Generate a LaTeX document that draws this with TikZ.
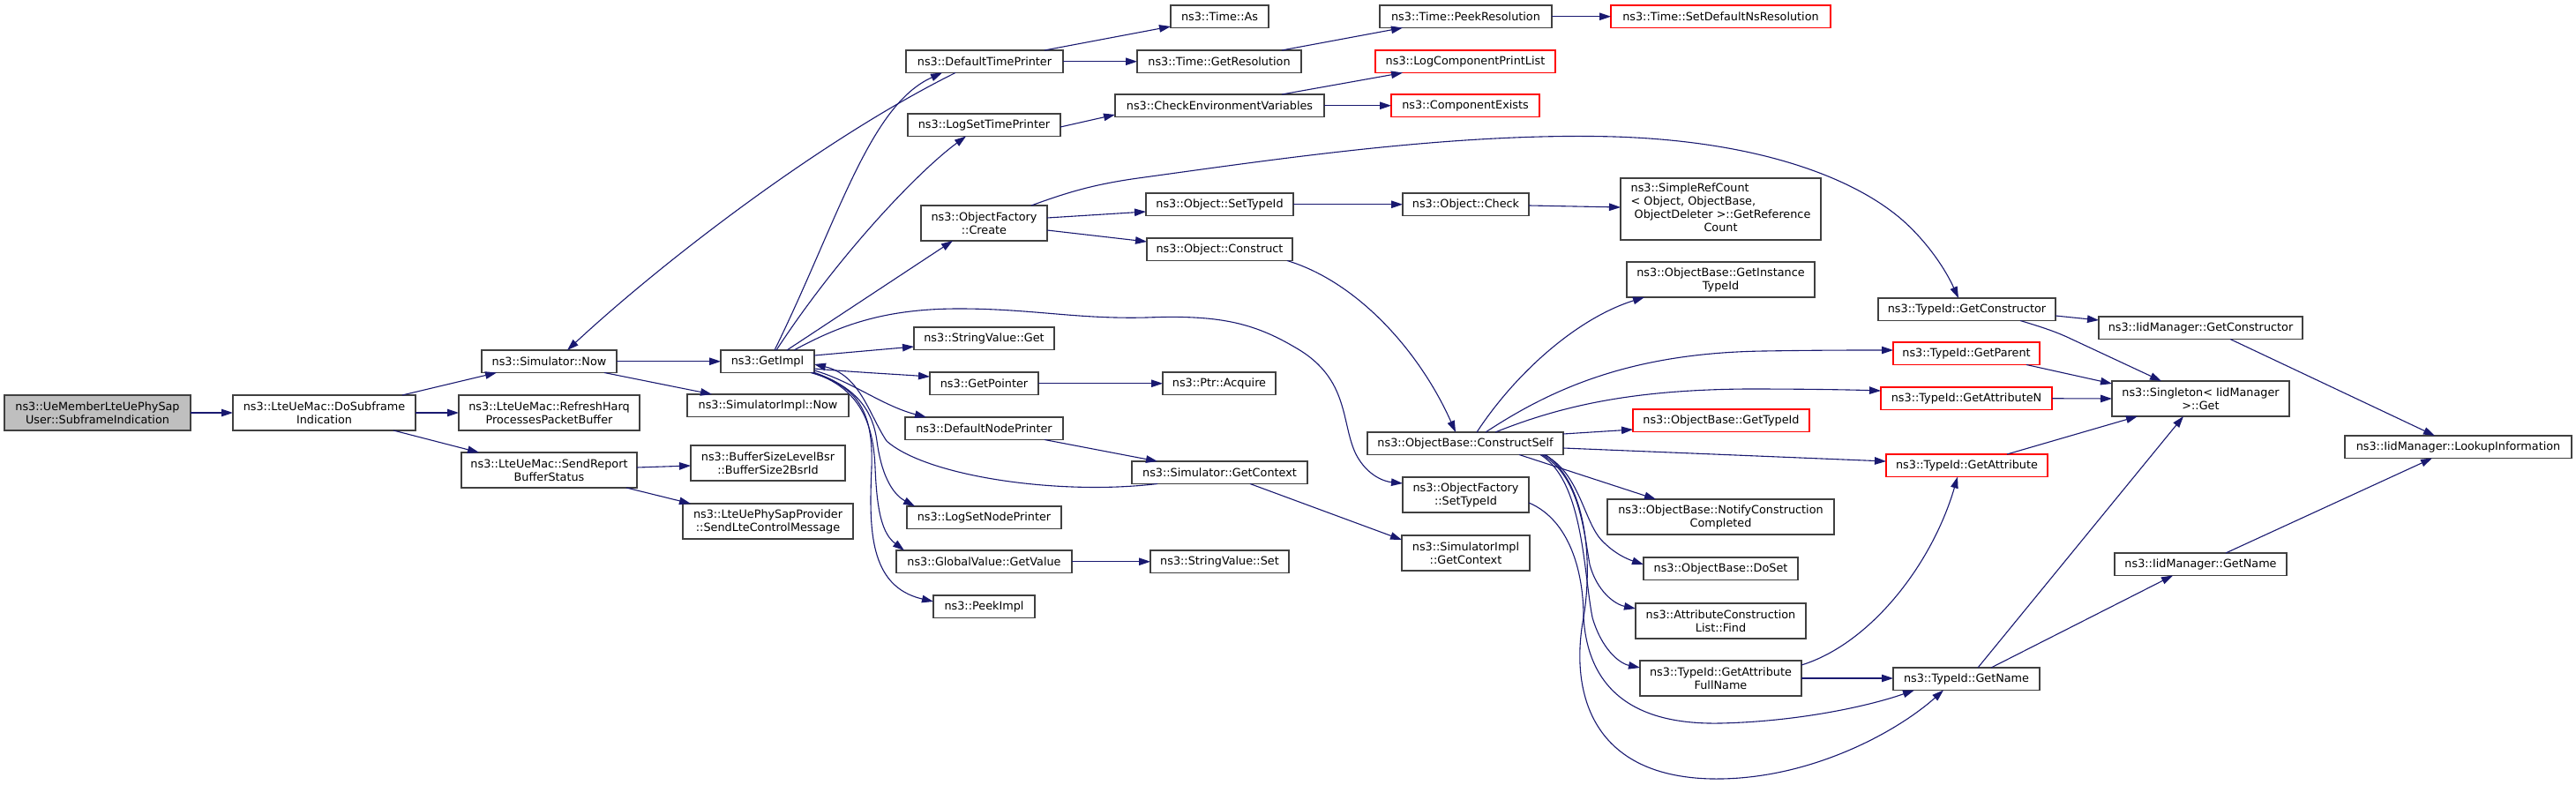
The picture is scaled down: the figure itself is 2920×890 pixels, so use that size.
\documentclass[tikz,border=0pt]{standalone}
\usepackage{fontspec}
\setmainfont{DejaVu Sans}
\usetikzlibrary{arrows.meta}
\definecolor{edgec}{HTML}{191970}
\definecolor{boxc}{HTML}{404040}
\definecolor{rootc}{HTML}{BFBFBF}
\definecolor{redc}{HTML}{FF0000}
\newcommand\nwo[3]{([shift={(#2,#3)}]#1.north west)}
\begin{document}
\begin{tikzpicture}[x=1pt,y=-1pt,
  font=\fontsize{12.8}{15}\selectfont,
  box/.style={draw=boxc,line width=1.1pt,fill=white,inner sep=0pt,outer sep=0pt,
    anchor=north west,minimum height=25.5,align=center,text=black},
  two/.style={minimum height=40},
  redbox/.style={box,draw=redc},
  edge/.style={edgec,line width=1.1pt,-{Triangle[length=13pt,width=8.5pt]}}]
\useasboundingbox (0,0) rectangle (2920,890);
% nodes
\node[box,two,minimum width=211,fill=rootc] (n1) at (5,448) {ns3::UeMemberLteUePhySap\\User::SubframeIndication};
\node[box,two,minimum width=207] (n2) at (264,448) {ns3::LteUeMac::DoSubframe\\Indication};
\node[box,minimum width=153] (n3) at (546,397) {ns3::Simulator::Now};
\node[box,two,minimum width=205] (n4) at (520,448) {ns3::LteUeMac::RefreshHarq\\ProcessesPacketBuffer};
\node[box,two,minimum width=199] (n5) at (523,513) {ns3::LteUeMac::SendReport\\BufferStatus};
\node[box,minimum width=106] (n6) at (817,397) {ns3::GetImpl};
\node[box,minimum width=183] (n7) at (779,447) {ns3::SimulatorImpl::Now};
\node[box,two,minimum width=175] (n8) at (783,505) {ns3::BufferSizeLevelBsr\\::BufferSize2BsrId};
\node[box,two,minimum width=193] (n9) at (774,571) {ns3::LteUePhySapProvider\\::SendLteControlMessage};
\node[box,minimum width=178] (n10) at (1027,57) {ns3::DefaultTimePrinter};
\node[box,minimum width=173] (n11) at (1029,129) {ns3::LogSetTimePrinter};
\node[box,two,minimum width=143] (n12) at (1044,233) {ns3::ObjectFactory\\::Create};
\node[box,minimum width=159] (n13) at (1036,371) {ns3::StringValue::Get};
\node[box,minimum width=123] (n14) at (1054,422) {ns3::GetPointer};
\node[box,minimum width=179] (n15) at (1026,473) {ns3::DefaultNodePrinter};
\node[box,minimum width=175] (n16) at (1028,574) {ns3::LogSetNodePrinter};
\node[box,minimum width=199] (n17) at (1016,624) {ns3::GlobalValue::GetValue};
\node[box,minimum width=115] (n18) at (1058,675) {ns3::PeekImpl};
\node[box,minimum width=111] (n19) at (1327,6) {ns3::Time::As};
\node[box,minimum width=186] (n20) at (1289,57) {ns3::Time::GetResolution};
\node[box,minimum width=237] (n21) at (1264,107) {ns3::CheckEnvironmentVariables};
\node[box,minimum width=167] (n22) at (1299,219) {ns3::Object::SetTypeId};
\node[box,minimum width=165] (n23) at (1300,270) {ns3::Object::Construct};
\node[box,minimum width=128] (n24) at (1318,422) {ns3::Ptr::Acquire};
\node[box,minimum width=199] (n25) at (1283,523) {ns3::Simulator::GetContext};
\node[box,minimum width=157] (n26) at (1304,624) {ns3::StringValue::Set};
\node[box,minimum width=195] (n27) at (1564,6) {ns3::Time::PeekResolution};
\node[redbox,minimum width=204] (n28) at (1559,57) {ns3::LogComponentPrintList};
\node[redbox,minimum width=168] (n29) at (1577,107) {ns3::ComponentExists};
\node[box,minimum width=143] (n30) at (1590,219) {ns3::Object::Check};
\node[box,minimum width=222] (n31) at (1550,490) {ns3::ObjectBase::ConstructSelf};
\node[box,two,minimum width=143] (n32) at (1590,541) {ns3::ObjectFactory\\::SetTypeId};
\node[box,two,minimum width=145] (n33) at (1589,607) {ns3::SimulatorImpl\\::GetContext};
\node[redbox,minimum width=249] (n34) at (1826,6) {ns3::Time::SetDefaultNsResolution};
\node[box,minimum width=227,minimum height=70] (n35) at (1837,202) {\begin{tabular}{@{}l@{}}ns3::SimpleRefCount\\< Object, ObjectBase,\\\ ObjectDeleter >::GetReference\\\multicolumn{1}{@{}c@{}}{Count}\end{tabular}};
\node[box,two,minimum width=213] (n36) at (1844,297) {ns3::ObjectBase::GetInstance\\TypeId};
\node[redbox,minimum width=200] (n37) at (1851,464) {ns3::ObjectBase::GetTypeId};
\node[box,two,minimum width=257] (n38) at (1822,566) {ns3::ObjectBase::NotifyConstruction\\Completed};
\node[box,minimum width=175] (n39) at (1863,632) {ns3::ObjectBase::DoSet};
\node[box,two,minimum width=193] (n40) at (1854,684) {ns3::AttributeConstruction\\List::Find};
\node[box,two,minimum width=183] (n41) at (1859,749) {ns3::TypeId::GetAttribute\\FullName};
\node[box,minimum width=201] (n42) at (2129,338) {ns3::TypeId::GetConstructor};
\node[redbox,minimum width=166] (n43) at (2146,388) {ns3::TypeId::GetParent};
\node[redbox,minimum width=194] (n44) at (2132,439) {ns3::TypeId::GetAttributeN};
\node[redbox,minimum width=183] (n45) at (2138,515) {ns3::TypeId::GetAttribute};
\node[box,minimum width=166] (n46) at (2146,757) {ns3::TypeId::GetName};
\node[box,minimum width=231] (n47) at (2379,359) {ns3::IidManager::GetConstructor};
\node[box,two,minimum width=201] (n48) at (2394,432) {ns3::Singleton< IidManager\\>::Get};
\node[box,minimum width=195] (n49) at (2397,627) {ns3::IidManager::GetName};
\node[box,minimum width=257] (n50) at (2658,494) {ns3::IidManager::LookupInformation};
% edges
\draw[edge] (n1.east) -- (n2.west);
\draw[edge] \nwo{n2}{192}{0} -- \nwo{n3}{17}{25.5};
\draw[edge] (n2.east) -- (n4.west);
\draw[edge] \nwo{n2}{182}{40} -- \nwo{n5}{20}{0};
\draw[edge] (n3.east) -- (n6.west);
\draw[edge] \nwo{n3}{139}{25.5} -- \nwo{n7}{28}{0};
\draw[edge] \nwo{n5}{199}{17} -- \nwo{n8}{0}{23};
\draw[edge] \nwo{n5}{187}{40} -- \nwo{n9}{9}{0};
\draw[edge] \nwo{n10}{56}{25.5} .. controls (933,157) and (753,295) .. \nwo{n3}{97}{0};
\draw[edge] \nwo{n6}{61}{0} .. controls (950,250) and (985,120) .. \nwo{n10}{41}{25.5};
\draw[edge] \nwo{n6}{63}{0} .. controls (950,290) and (1040,195) .. \nwo{n11}{66}{25.5};
\draw[edge] \nwo{n6}{75}{0} -- \nwo{n12}{36}{40};
\draw[edge] \nwo{n6}{83}{0} .. controls (950,370) and (1000,350) .. (1087,350) .. controls (1170,350) and (1220,362) .. (1300,360) .. controls (1380,357) and (1420,365) .. (1470,395) .. controls (1530,430) and (1520,480) .. (1537,515) .. controls (1550,540) and (1570,546) .. \nwo{n32}{0}{7};
\draw[edge] \nwo{n6}{106}{6} -- \nwo{n13}{0}{22};
\draw[edge] \nwo{n6}{106}{21} .. controls (970,422) and (1010,424) .. \nwo{n14}{0}{5};
\draw[edge] \nwo{n6}{106}{23} .. controls (965,432) and (1000,460) .. \nwo{n15}{24}{0};
\draw[edge] \nwo{n6}{105}{25} .. controls (975,440) and (990,470) .. (994,500) .. controls (1000,545) and (1015,562) .. \nwo{n16}{9}{0};
\draw[edge] \nwo{n6}{104}{25.5} .. controls (975,440) and (990,480) .. (992,530) .. controls (994,580) and (1000,605) .. \nwo{n17}{9}{0};
\draw[edge] \nwo{n6}{102}{25.5} .. controls (975,438) and (990,470) .. (988,530) .. controls (985,600) and (985,665) .. \nwo{n18}{0}{7};
\draw[edge] \nwo{n25}{29}{25.5} .. controls (1200,562) and (1050,540) .. (1005,500) .. controls (985,470) and (975,425) .. \nwo{n6}{106}{16};
\draw[edge] \nwo{n10}{157}{0} -- \nwo{n19}{0}{24};
\draw[edge] (n10.east) -- (n20.west);
\draw[edge] \nwo{n20}{164}{0} -- \nwo{n27}{26}{25.5};
\draw[edge] (n27.east) -- (n34.west);
\draw[edge] \nwo{n11}{173}{15} -- \nwo{n21}{0}{23};
\draw[edge] \nwo{n21}{189}{0} -- \nwo{n28}{31}{25.5};
\draw[edge] (n21.east) -- (n29.west);
\draw[edge] \nwo{n12}{125}{0} .. controls (1210,218) and (1240,209) .. (1290,202) .. controls (1450,180) and (1650,150) .. (1830,155) .. controls (1990,160) and (2100,200) .. (2157,250) .. controls (2185,275) and (2205,305) .. \nwo{n42}{91}{0};
\draw[edge] \nwo{n12}{143}{14} -- \nwo{n22}{0}{21};
\draw[edge] \nwo{n12}{143}{28} -- \nwo{n23}{0}{4};
\draw[edge] (n22.east) -- (n30.west);
\draw[edge] \nwo{n30}{143}{14} -- \nwo{n35}{0}{33};
\draw[edge] \nwo{n23}{159}{25.5} .. controls (1540,320) and (1610,400) .. \nwo{n31}{100}{0};
\draw[edge] (n14.east) -- (n24.west);
\draw[edge] \nwo{n15}{158}{25.5} -- \nwo{n25}{29}{0};
\draw[edge] \nwo{n25}{134}{25.5} -- \nwo{n33}{0}{5};
\draw[edge] (n17.east) -- (n26.west);
\draw[edge] \nwo{n31}{124}{0} .. controls (1720,420) and (1790,360) .. \nwo{n36}{20}{40};
\draw[edge] \nwo{n31}{134}{0} .. controls (1760,440) and (1850,400) .. (2000,398) .. controls (2060,397) and (2100,397) .. \nwo{n43}{0}{9};
\draw[edge] \nwo{n31}{145}{0} .. controls (1770,460) and (1850,442) .. (1980,441) .. controls (2050,441) and (2100,442) .. \nwo{n44}{0}{4};
\draw[edge] \nwo{n31}{222}{2} -- \nwo{n37}{0}{23};
\draw[edge] \nwo{n31}{222}{18} -- \nwo{n45}{0}{8};
\draw[edge] \nwo{n31}{172}{25.5} -- \nwo{n38}{55}{0};
\draw[edge] \nwo{n31}{200}{25.5} .. controls (1790,535) and (1795,590) .. (1815,612) .. controls (1830,628) and (1845,634) .. \nwo{n39}{0}{8};
\draw[edge] \nwo{n31}{198}{25.5} .. controls (1790,540) and (1795,600) .. (1802,640) .. controls (1810,670) and (1830,685) .. \nwo{n40}{0}{6};
\draw[edge] \nwo{n31}{196}{25.5} .. controls (1795,545) and (1795,650) .. (1805,700) .. controls (1815,735) and (1835,752) .. \nwo{n41}{0}{8};
\draw[edge] \nwo{n32}{143}{29} .. controls (1780,590) and (1795,650) .. (1795,700) .. controls (1800,780) and (1850,822) .. (1950,820) .. controls (2040,818) and (2120,800) .. \nwo{n46}{24}{25.5};
\draw[edge] \nwo{n31}{202}{25.5} .. controls (1800,550) and (1805,640) .. (1795,700) .. controls (1780,780) and (1800,880) .. (1940,883) .. controls (2050,885) and (2150,830) .. \nwo{n46}{57}{25.5};
\draw[edge] \nwo{n41}{183}{5} .. controls (2120,730) and (2190,640) .. \nwo{n45}{81}{25.5};
\draw[edge] \nwo{n41}{183}{20} -- \nwo{n46}{0}{12};
\draw[edge] \nwo{n42}{201}{20} -- \nwo{n47}{0}{4};
\draw[edge] \nwo{n42}{161}{25.5} .. controls (2315,371) and (2330,376) .. (2345,383) -- \nwo{n48}{56}{0};
\draw[edge] \nwo{n43}{151}{25.5} -- \nwo{n48}{0}{3};
\draw[edge] (n44.east) -- (n48.west);
\draw[edge] \nwo{n45}{137}{0} -- \nwo{n48}{29}{40};
\draw[edge] \nwo{n46}{96}{0} -- \nwo{n48}{81}{40};
\draw[edge] \nwo{n46}{111}{0} -- \nwo{n49}{66}{25.5};
\draw[edge] \nwo{n47}{149}{25.5} -- \nwo{n50}{102}{0};
\draw[edge] \nwo{n49}{126}{0} -- \nwo{n50}{99}{25.5};
\end{tikzpicture}
\end{document}
